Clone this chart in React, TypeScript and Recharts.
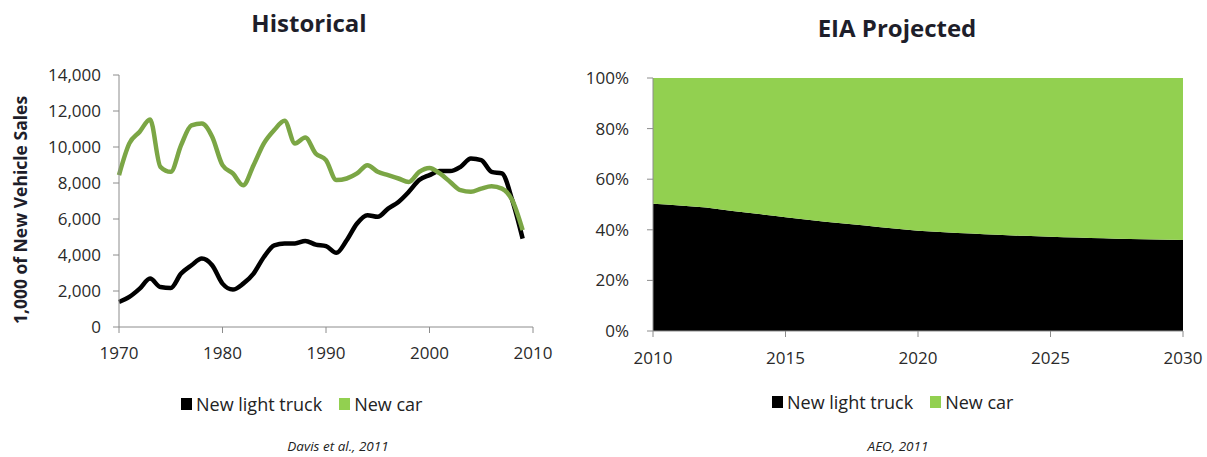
import React from 'react';
import { LineChart, Line, AreaChart, Area, XAxis, YAxis } from 'recharts';

const histYears = [1970,1971,1972,1973,1974,1975,1976,1977,1978,1979,1980,1981,1982,1983,1984,1985,1986,1987,1988,1989,1990,1991,1992,1993,1994,1995,1996,1997,1998,1999,2000,2001,2002,2003,2004,2005,2006,2007,2008,2009];
const histTruck = [1390,1670,2130,2690,2220,2170,2970,3430,3800,3430,2410,2080,2410,2970,3890,4540,4640,4640,4780,4580,4490,4120,4820,5750,6210,6120,6580,6950,7510,8160,8440,8660,8660,8900,9360,9270,8620,8530,7040,4910];
const histCar = [8440,10200,10850,11530,8900,8620,10100,11200,11300,10570,8990,8530,7880,8990,10200,10940,11460,10200,10530,9640,9270,8160,8250,8530,8990,8620,8440,8250,8060,8620,8840,8530,8060,7600,7510,7690,7820,7690,7040,5380];
const histXTicks = [1970,1980,1990,2000,2010];
const histYTicks = [0,2000,4000,6000,8000,10000,12000,14000];

const projYears = [2010,2011,2012,2013,2014,2015,2016,2017,2018,2019,2020,2021,2022,2023,2024,2025,2026,2027,2028,2029,2030];
const projTruck = [50.3,49.6,48.8,47.4,46.2,45.0,43.8,42.7,41.7,40.6,39.6,39.0,38.5,38.0,37.6,37.3,37.0,36.7,36.4,36.2,36.0];
const projXTicks = [2010,2015,2020,2025,2030];
const projYTicks = [0,0.2,0.4,0.6,0.8,1];

const seriesNames = ['New light truck', 'New car'];

const histData = histYears.map((y, i) => ({ year: y, truck: histTruck[i], car: histCar[i] }));
const projData = projYears.map((y, i) => ({ year: y, truck: projTruck[i], car: 100 - projTruck[i] }));

const FONT = '"Open Sans", Lato, sans-serif';
const tickStyle = { fontSize: 17, fill: '#2a2a2a', fontFamily: FONT };
const axisLine = { stroke: '#8c8c8c' };

const LegendBox = ({ left, top }: { left: number; top: number }) => (
  <div style={{ position: 'absolute', left, top, display: 'flex', alignItems: 'center', fontFamily: FONT, fontSize: 18, color: '#222', whiteSpace: 'nowrap' }}>
    <span style={{ display: 'inline-block', width: 11, height: 12, background: '#000', marginRight: 4 }} />
    <span>{seriesNames[0]}</span>
    <span style={{ display: 'inline-block', width: 11, height: 12, background: '#92D050', marginLeft: 17, marginRight: 4 }} />
    <span>{seriesNames[1]}</span>
  </div>
);

export default function App() {
  return (
    <div style={{ position: 'absolute', left: 0, top: 0, width: 1207, height: 457, background: '#fff', overflow: 'hidden', fontFamily: FONT }}>
      <div style={{ position: 'absolute', left: 209, width: 200, top: 6, textAlign: 'center', fontSize: 24, fontWeight: 700, color: '#1e1e2a' }}>Historical</div>
      <div style={{ position: 'absolute', left: 797, width: 200, top: 11, textAlign: 'center', fontSize: 24, fontWeight: 700, color: '#1e1e2a' }}>EIA Projected</div>
      <div style={{ position: 'absolute', left: 20, top: 210, width: 0, height: 0 }}>
        <div style={{ position: 'absolute', transform: 'translate(-50%, -50%) rotate(-90deg)', whiteSpace: 'nowrap', fontSize: 17.5, fontWeight: 700, color: '#1e1e2a' }}>1,000 of New Vehicle Sales</div>
      </div>

      <div style={{ position: 'absolute', left: 0, top: 0 }}>
        <LineChart width={560} height={380} data={histData} margin={{ top: 75, right: 27, left: 0, bottom: 0 }}>
          <XAxis dataKey="year" type="number" domain={[1970, 2010]} ticks={histXTicks} tick={tickStyle} axisLine={axisLine} tickLine={axisLine} height={53} tickMargin={14} />
          <YAxis type="number" domain={[0, 14000]} ticks={histYTicks} tick={tickStyle} axisLine={axisLine} tickLine={axisLine} width={119} tickMargin={12} tickFormatter={(v: number) => v.toLocaleString('en-US')} />
          <Line type="monotone" dataKey="truck" stroke="#000000" strokeWidth={4.5} dot={false} isAnimationActive={false} />
          <Line type="monotone" dataKey="car" stroke="#7BA645" strokeWidth={4.5} dot={false} isAnimationActive={false} />
        </LineChart>
      </div>

      <div style={{ position: 'absolute', left: 560, top: 0 }}>
        <AreaChart width={647} height={384} data={projData} stackOffset="expand" margin={{ top: 78, right: 24, left: 0, bottom: 0 }}>
          <XAxis dataKey="year" type="number" domain={[2010, 2030]} ticks={projXTicks} tick={tickStyle} axisLine={axisLine} tickLine={axisLine} height={53} tickMargin={15} />
          <YAxis type="number" domain={[0, 1]} ticks={projYTicks} tick={tickStyle} axisLine={axisLine} tickLine={axisLine} width={93} tickMargin={18} tickFormatter={(v: number) => `${Math.round(v * 100)}%`} />
          <Area type="monotone" dataKey="truck" stackId="1" stroke="none" fill="#000000" fillOpacity={1} isAnimationActive={false} />
          <Area type="monotone" dataKey="car" stackId="1" stroke="none" fill="#92D050" fillOpacity={1} isAnimationActive={false} />
        </AreaChart>
      </div>

      <LegendBox left={181} top={392} />
      <LegendBox left={772} top={390} />

      <div style={{ position: 'absolute', left: 238, width: 200, top: 437, textAlign: 'center', fontSize: 13.5, fontStyle: 'italic', color: '#222' }}>Davis et al., 2011</div>
      <div style={{ position: 'absolute', left: 798, width: 200, top: 437, textAlign: 'center', fontSize: 13.5, fontStyle: 'italic', color: '#222' }}>AEO, 2011</div>
    </div>
  );
}
